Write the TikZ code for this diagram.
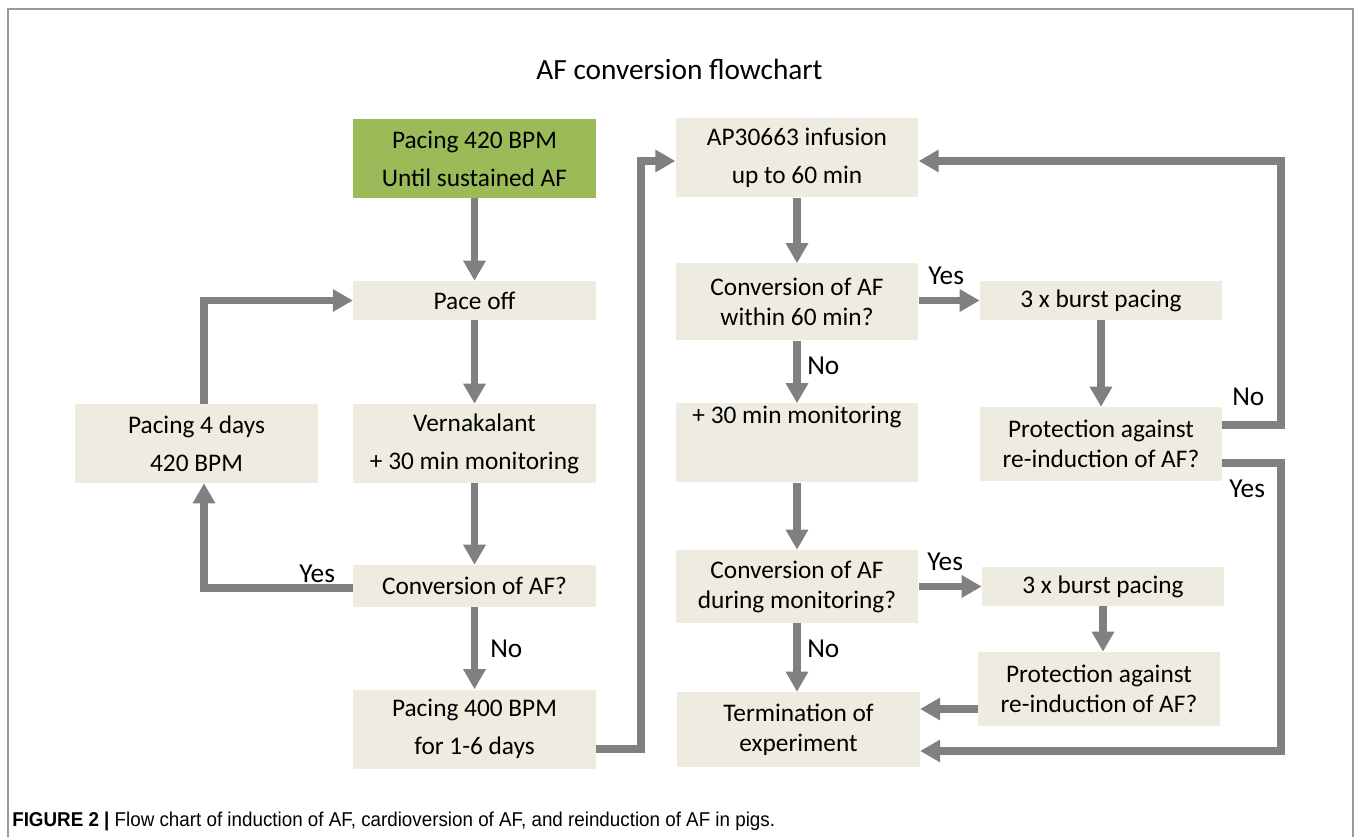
\documentclass[tikz,border=0pt]{standalone}
\usepackage{fontspec}
\setmainfont{Carlito}
\newfontfamily\capfont{Liberation Sans}
\usetikzlibrary{arrows.meta}
\definecolor{boxc}{HTML}{EEECE1}
\definecolor{greenc}{HTML}{9BBB59}
\definecolor{arrc}{HTML}{808080}
\definecolor{framec}{HTML}{9A9A9A}
\begin{document}
\begin{tikzpicture}[x=0.75pt,y=-0.75pt,
  box/.style={fill=boxc, inner sep=0pt, minimum width=182pt, align=center, font=\fontsize{19}{28.5}\selectfont},
  tight/.style={font=\fontsize{19}{22.5}\selectfont},
  arr/.style={draw=arrc, line width=5.8pt, -{Triangle[width=16pt,length=15pt]}},
  lab/.style={anchor=base west, inner sep=0pt, font=\fontsize{20.5}{22}\selectfont}]
\useasboundingbox (0,0) rectangle (1356,837);
\draw[framec, line width=1.2pt] (8,837) -- (8,9) -- (1353,9) -- (1353,837);
\node[font=\fontsize{22}{26}\selectfont, anchor=base] (title) at (679.5,80) {AF conversion flowchart};
% left / centre column
\node[box, fill=greenc, minimum height=59.25pt] (g) at (474.5,158.5) {Pacing 420 BPM\\Until sustained AF};
\node[box, minimum height=29.25pt] (po) at (474.5,300.5) {Pace off};
\node[box, minimum height=59.25pt] (vn) at (474.5,443.5) {Vernakalant\\+ 30 min monitoring};
\node[box, minimum height=31.5pt] (cv) at (474.5,586) {Conversion of AF?};
\node[box, minimum height=59.25pt] (p400) at (474.5,729) {Pacing 400 BPM\\for 1-6 days};
\node[box, minimum height=59.25pt] (p4) at (196.5,443.5) {Pacing 4 days\\420 BPM};
% middle-right column
\node[box, minimum height=59.25pt] (ap) at (797,158) {AP30663 infusion\\up to 60 min};
\node[box, tight, minimum height=57.75pt] (c60) at (797,302) {Conversion of AF\\within 60 min?};
\node[box, text height=15pt, text depth=44.25pt] (mon) at (797,443) {+ 30 min monitoring};
\node[box, tight, minimum height=54.75pt] (cdm) at (797,586.5) {Conversion of AF\\during monitoring?};
\node[box, tight, minimum height=56.25pt] (tm) at (798.5,729.5) {Termination of\\experiment};
% right column
\node[box, minimum width=181.5pt, minimum height=29.25pt] (b1) at (1101,300.5) {3 x burst pacing};
\node[box, tight, minimum width=181.5pt, minimum height=55.5pt] (pr1) at (1101,444) {Protection against\\re-induction of AF?};
\node[box, minimum width=181.5pt, minimum height=29.25pt] (b2) at (1103,586.5) {3 x burst pacing};
\node[box, tight, minimum width=181.5pt, minimum height=55.5pt] (pr2) at (1099,689) {Protection against\\re-induction of AF?};
% straight connectors
\draw[arr] (g) -- (po);
\draw[arr] (po) -- (vn);
\draw[arr] (vn) -- (cv);
\draw[arr] (cv) -- (p400);
\draw[arr] (ap) -- (c60);
\draw[arr] (c60) -- (mon);
\draw[arr] (mon) -- (cdm);
\draw[arr] (cdm.south) -- (cdm.south |- tm.north);
\draw[arr] (b1.south) -- (b1.south |- pr1.north);
\draw[arr] (b2.south) -- (b2.south |- pr2.north);
\draw[arr] (c60.east |- b1.west) -- (b1.west);
\draw[arr] (cdm.east |- b2.west) -- (b2.west);
\coordinate (q) at (0,709);
\draw[arr] (pr2.west |- q) -- (q -| tm.east);
% loops
\coordinate (l1) at (641,749);
\coordinate (l2) at (641,161);
\draw[arr] (p400.east |- l1) -- (l1) -- (l2) -- (l2 -| ap.west);
\coordinate (n1) at (1281,425);
\coordinate (n2) at (1281,161);
\draw[arr] (pr1.east |- n1) -- (n1) -- (n2) -- (n2 -| ap.east);
\coordinate (y1) at (1281,463);
\coordinate (y2) at (1281,751);
\draw[arr] (pr1.east |- y1) -- (y1) -- (y2) -- (y2 -| tm.east);
\coordinate (k1) at (204,588);
\draw[arr] (cv.west |- k1) -- (k1) -- (k1 |- p4.south);
\coordinate (k2) at (204,300.5);
\draw[arr] (k2 |- p4.north) -- (k2) -- (k2 -| po.west);
% labels
\node[lab] (yes1) at (299,582) {Yes};
\node[lab] (no1) at (490,657) {No};
\node[lab] (no2) at (807,375) {No};
\node[lab] (no3) at (807,657) {No};
\node[lab] (yes2) at (928,285) {Yes};
\node[lab] (yes3) at (927,570) {Yes};
\node[lab] (no4) at (1232,406) {No};
\node[lab] (yes4) at (1229,498) {Yes};
% caption
\node[anchor=base west, inner sep=0pt, font=\capfont\fontsize{15}{18}\selectfont] (cap) at (12,826) {\scalebox{0.94}[1]{\textbf{FIGURE 2 |} Flow chart of induction of AF, cardioversion of AF, and reinduction of AF in pigs.}};
\end{tikzpicture}
\end{document}
